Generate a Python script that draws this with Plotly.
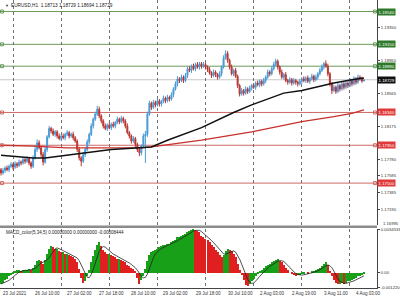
import plotly.graph_objects as go
import pandas as pd

# ---------------- data ----------------
FIRST_OPEN = 1.1766
CLOSE = [
    1.1762, 1.1765, 1.1768, 1.1766, 1.1770, 1.1772, 1.1769, 1.1773, 1.1771, 1.1775,
    1.1774, 1.1778, 1.1776, 1.1779, 1.1774, 1.1770, 1.1780, 1.1790, 1.1798, 1.1792,
    1.1784, 1.1775, 1.1790, 1.1805, 1.1815, 1.1812, 1.1808, 1.1811, 1.1806, 1.1803,
    1.1806, 1.1804, 1.1808, 1.1810, 1.1806, 1.1808, 1.1804, 1.1800, 1.1790, 1.1780,
    1.1776, 1.1784, 1.1790, 1.1799, 1.1808, 1.1818, 1.1826, 1.1832, 1.1838, 1.1830,
    1.1824, 1.1818, 1.1815, 1.1819, 1.1816, 1.1820, 1.1818, 1.1822, 1.1826, 1.1823,
    1.1827, 1.1824, 1.1818, 1.1810, 1.1806, 1.1800, 1.1803, 1.1796, 1.1790, 1.1786,
    1.1794, 1.1806, 1.1808, 1.1832, 1.1845, 1.1840, 1.1846, 1.1843, 1.1848, 1.1844,
    1.1847, 1.1851, 1.1848, 1.1852, 1.1850, 1.1855, 1.1862, 1.1868, 1.1874, 1.1872,
    1.1876, 1.1872, 1.1878, 1.1886, 1.1884, 1.1889, 1.1886, 1.1891, 1.1888, 1.1892,
    1.1889, 1.1891, 1.1888, 1.1885, 1.1881, 1.1878, 1.1882, 1.1879, 1.1876, 1.1880,
    1.1888, 1.1899, 1.1904, 1.1896, 1.1888, 1.1880, 1.1884, 1.1877, 1.1866, 1.1856,
    1.1860, 1.1857, 1.1862, 1.1859, 1.1863, 1.1866, 1.1864, 1.1869, 1.1867, 1.1871,
    1.1868, 1.1872, 1.1876, 1.1882, 1.1880, 1.1886, 1.1891, 1.1895, 1.1888, 1.1882,
    1.1876, 1.1879, 1.1872, 1.1870, 1.1873, 1.1869, 1.1872, 1.1870, 1.1868, 1.1871,
    1.1874, 1.1872, 1.1875, 1.1871, 1.1874, 1.1877, 1.1873, 1.1876, 1.1880, 1.1884,
    1.1888, 1.1892, 1.1889, 1.1880, 1.1868, 1.1860, 1.1864, 1.1859, 1.1866, 1.1862,
    1.1868, 1.1864, 1.1869, 1.1866, 1.1872, 1.1868, 1.1874, 1.1870, 1.1876, 1.18745,
    1.18713, 1.18729,
]
# wick lengths in pips (0.0001)
UP_WICK = [
    2, 3, 2, 3, 2, 3, 2, 3, 2, 3,
    2, 3, 2, 3, 2, 2, 3, 4, 4, 3,
    2, 3, 3, 2, 3, 2, 3, 2, 2, 3,
    2, 3, 2, 3, 2, 2, 3, 2, 2, 3,
    2, 3, 2, 3, 2, 3, 2, 3, 4, 3,
    2, 2, 3, 2, 3, 2, 3, 2, 3, 2,
    3, 2, 2, 3, 2, 2, 3, 2, 2, 3,
    2, 3, 4, 3, 3, 2, 3, 2, 3, 2,
    2, 3, 2, 3, 2, 3, 2, 3, 3, 2,
    3, 2, 3, 2, 3, 2, 3, 2, 3, 2,
    2, 3, 2, 2, 3, 2, 3, 2, 2, 3,
    2, 3, 4, 3, 2, 3, 2, 3, 2, 2,
    3, 2, 3, 2, 3, 2, 3, 2, 3, 2,
    2, 3, 2, 3, 2, 3, 3, 3, 2, 2,
    3, 2, 3, 2, 3, 2, 3, 2, 2, 3,
    2, 3, 2, 3, 2, 3, 2, 3, 2, 3,
    3, 2, 4, 3, 2, 2, 3, 2, 3, 2,
    3, 2, 3, 2, 3, 2, 3, 2, 3, 2,
    2, 0,
]
LOW_WICK = [
    3, 2, 3, 2, 3, 2, 3, 2, 3, 2,
    3, 2, 3, 2, 3, 3, 2, 2, 3, 2,
    3, 4, 2, 3, 2, 3, 2, 3, 3, 2,
    3, 2, 3, 2, 3, 2, 3, 2, 3, 3,
    6, 2, 3, 2, 3, 2, 3, 2, 2, 3,
    3, 3, 2, 3, 2, 3, 2, 3, 2, 3,
    2, 3, 3, 2, 3, 3, 2, 3, 3, 4,
    3, 2, 32, 3, 2, 3, 2, 3, 2, 3,
    3, 2, 3, 2, 3, 2, 3, 2, 3, 3,
    2, 3, 2, 3, 2, 3, 2, 3, 2, 3,
    3, 2, 3, 3, 2, 3, 2, 3, 3, 2,
    3, 2, 2, 3, 3, 2, 3, 2, 3, 3,
    2, 3, 2, 3, 2, 3, 2, 3, 2, 3,
    3, 2, 3, 2, 3, 2, 2, 2, 3, 3,
    2, 3, 2, 3, 2, 3, 2, 3, 3, 2,
    3, 2, 3, 2, 3, 2, 3, 2, 3, 2,
    2, 3, 2, 3, 3, 4, 2, 3, 2, 3,
    2, 3, 2, 3, 2, 3, 2, 3, 2, 3,
    2, 0.2,
]
# MACD histogram in units of 0.0001
MACD = [
    -9, -8, -6, -5, -3, -2, -1, 1, 2, 2,
    1, 2, 2, 2, 3, 2, 4, 6, 9, 10,
    9, 7, 10, 15, 19, 21, 20, 19, 19, 17,
    16, 16, 15, 15, 14, 13, 12, 11, 8, 3,
    -4, -8, -7, -3, 2, 8, 13, 18, 22, 24,
    21, 18, 16, 15, 15, 14, 13, 12, 11, 11,
    10, 9, 8, 6, 5, 4, 3, 1, -4, -9,
    -6, -3, 3, 9, 14, 16, 17, 18, 19, 20,
    21, 22, 22, 23, 23, 24, 25, 26, 28, 28,
    29, 30, 31, 32, 33, 34, 34.5, 34, 33, 32,
    29, 28, 27, 26, 24, 22, 20, 18, 16, 14,
    12, 14, 17, 19, 18, 17, 15, 12, 7, 2,
    -2, -6, -10, -11, -9, -7, -5, -3, -1, 1,
    2, 4, 5, 6, 7, 8, 9, 10, 11, 9,
    8, 6, 4, 2, 0, -1, -2, -3, -2, -2,
    -1, -1, 0, -1, 0, 1, 1, 2, 3, 4,
    5, 7, 8, 6, 1, -3, -6, -8, -9, -9,
    -8, -9, -8, -7, -7, -6, -5, -4, -3, -3,
    -2, -1,
]
MA_BLACK_IDX = [0, 16, 22, 41, 55, 75, 83, 100, 116, 125, 141, 150, 166, 175, 181]
MA_BLACK = [1.1783, 1.1780, 1.1780, 1.1786, 1.1790, 1.1793, 1.1801, 1.1816, 1.1834,
            1.1843, 1.1857, 1.1860, 1.1869, 1.1873, 1.1875]
MA_RED_IDX = [0, 16, 33, 50, 70, 75, 100, 125, 150, 166, 175, 181]
MA_RED = [1.1795, 1.1794, 1.1792, 1.1792, 1.1792, 1.1793, 1.1801, 1.1811, 1.1823,
          1.1829, 1.1833, 1.1837]

LEVELS_GREEN = [1.19540, 1.19150, 1.18890]
LEVELS_RED = [1.18340, 1.17950, 1.17500]
BID = 1.18729
PRICE_TICKS = [1.19350, 1.18960, 1.18565, 1.18175, 1.17780, 1.17585, 1.17385, 1.17190]
BOTTOM_PRICE_LABEL = "1.16995"
MACD_TICKS = [0.0034533, 0.0, -0.00122]
MACD_TICK_TEXT = ["0.0034533", "0.00", "-0.001220"]
TIME_LABEL_IDX = [0, 16, 32, 48, 64, 80, 96, 112, 128, 144, 160, 176]
TIME_LABELS = ["23 Jul 2021", "26 Jul 10:00", "27 Jul 02:00", "27 Jul 18:00",
               "28 Jul 10:00", "29 Jul 02:00", "29 Jul 18:00", "30 Jul 10:00",
               "2 Aug 03:00", "2 Aug 19:00", "3 Aug 11:00", "4 Aug 03:00"]
GRID_IDX = [6, 30, 54, 78, 102, 126, 150, 174]
HEADER = "EURUSD,H1  1.18713 1.18729 1.18694 1.18729"
MACD_TITLE = "MACD_color(5,34,5) 0.00000000 0.00000000 -0.00008444"

# ---------------- build ----------------
n = len(CLOSE)
idx = list(range(n))
OPEN = [FIRST_OPEN] + CLOSE[:-1]
HIGH = [max(o, c) + w * 1e-4 for o, c, w in zip(OPEN, CLOSE, UP_WICK)]
LOW = [min(o, c) - w * 1e-4 for o, c, w in zip(OPEN, CLOSE, LOW_WICK)]
macd = [v * 1e-4 for v in MACD]
signal = pd.Series(macd).rolling(5, min_periods=1).mean().tolist()
mcol = ["#18a018" if (i == 0 or macd[i] >= macd[i - 1]) else "#e02020" for i in range(len(macd))]

XDOM = [0, 377 / 400]
XR = [-0.5, 187.5]
FONT = "Liberation Sans, Arial, sans-serif"
TXT = "#333333"
GREEN_LINE = "#6a9a5c"
RED_LINE = "#cc6a66"

fig = go.Figure()
fig.add_trace(go.Candlestick(
    x=idx, open=OPEN, high=HIGH, low=LOW, close=CLOSE,
    increasing=dict(line=dict(color="#4a9ad6", width=1), fillcolor="#4a9ad6"),
    decreasing=dict(line=dict(color="#b83632", width=1), fillcolor="#b83632"),
    whiskerwidth=0, xaxis="x", yaxis="y", showlegend=False, hoverinfo="skip"))
fig.add_trace(go.Scatter(x=MA_RED_IDX, y=MA_RED, mode="lines", line=dict(color="#c8302c", width=1.3),
                         xaxis="x", yaxis="y", showlegend=False, hoverinfo="skip"))
fig.add_trace(go.Scatter(x=MA_BLACK_IDX, y=MA_BLACK, mode="lines", line=dict(color="#111111", width=1.5),
                         xaxis="x", yaxis="y", showlegend=False, hoverinfo="skip"))

# level endpoint squares
lv = LEVELS_GREEN + LEVELS_RED
lc = [GREEN_LINE] * len(LEVELS_GREEN) + [RED_LINE] * len(LEVELS_RED)
for p, c in zip(lv, lc):
    fig.add_trace(go.Scatter(x=[0.5, 186.5], y=[p, p], mode="markers",
                             marker=dict(symbol="square-open", size=3, color=c, line=dict(width=1, color=c)),
                             xaxis="x", yaxis="y", showlegend=False, hoverinfo="skip"))

fig.add_trace(go.Bar(x=idx, y=macd, marker=dict(color=mcol, line=dict(width=0)), width=0.55,
                     xaxis="x2", yaxis="y2", showlegend=False, hoverinfo="skip"))
fig.add_trace(go.Scatter(x=idx, y=signal, mode="lines", line=dict(color="#222222", width=0.8),
                         xaxis="x2", yaxis="y2", showlegend=False, hoverinfo="skip"))

shapes = []
for p, c in zip(lv, lc):
    shapes.append(dict(type="line", xref="paper", x0=0, x1=XDOM[1], yref="y", y0=p, y1=p,
                       line=dict(color=c, width=1), layer="below"))
shapes.append(dict(type="line", xref="paper", x0=0, x1=XDOM[1], yref="y", y0=BID, y1=BID,
                   line=dict(color="#c8c8c8", width=1), layer="below"))
# pane separator
shapes.append(dict(type="rect", xref="paper", x0=0, x1=XDOM[1], yref="paper",
                   y0=1 - 228 / 300, y1=1 - 225.5 / 300, fillcolor="#8c8c8c", line=dict(width=0)))

ann = []
ann.append(dict(xref="paper", yref="paper", x=3 / 400, y=1 - 5 / 300, text="▼", showarrow=False,
                xanchor="left", yanchor="middle", font=dict(size=4, color="#333", family=FONT)))
ann.append(dict(xref="paper", yref="paper", x=9 / 400, y=1 - 5 / 300, text=HEADER, showarrow=False,
                xanchor="left", yanchor="middle", font=dict(size=4.7, color="#222", family=FONT)))
ann.append(dict(xref="paper", yref="paper", x=4 / 400, y=1 - 232.5 / 300, text=MACD_TITLE, showarrow=False,
                xanchor="left", yanchor="middle", font=dict(size=4.5, color="#222", family=FONT)))
for i, t in zip(TIME_LABEL_IDX, TIME_LABELS):
    ann.append(dict(xref="x2", yref="paper", x=i, y=1 - 293.5 / 300, text=t, showarrow=False,
                    xanchor="left", yanchor="middle", font=dict(size=4.5, color=TXT, family=FONT)))
ann.append(dict(xref="paper", yref="paper", x=381 / 400, y=1 - 223 / 300, text=BOTTOM_PRICE_LABEL,
                showarrow=False, xanchor="left", yanchor="middle",
                font=dict(size=4.2, color=TXT, family=FONT)))
for p in LEVELS_GREEN:
    ann.append(dict(xref="paper", yref="y", x=XDOM[1], y=p, text=f"{p:.5f}", showarrow=False,
                    xanchor="left", yanchor="middle", bgcolor="#2f7a2a", borderpad=0.6,
                    font=dict(size=4.3, color="white", family=FONT)))
for p in LEVELS_RED:
    ann.append(dict(xref="paper", yref="y", x=XDOM[1], y=p, text=f"{p:.5f}", showarrow=False,
                    xanchor="left", yanchor="middle", bgcolor="#e03a3a", borderpad=0.6,
                    font=dict(size=4.3, color="white", family=FONT)))
ann.append(dict(xref="paper", yref="y", x=XDOM[1], y=BID, text=f"{BID:.5f}", showarrow=False,
                xanchor="left", yanchor="middle", bgcolor="#111111", borderpad=0.6,
                font=dict(size=4.3, color="white", family=FONT)))

grid = dict(tickmode="array", tickvals=GRID_IDX, showticklabels=False, showgrid=True,
            gridcolor="#707070", griddash="dot", gridwidth=1, zeroline=False, ticks="")

fig.update_layout(
    width=400, height=300, margin=dict(l=0, r=0, t=0, b=0),
    paper_bgcolor="white", plot_bgcolor="white", showlegend=False, bargap=0,
    xaxis=dict(domain=XDOM, range=XR, anchor="y", rangeslider=dict(visible=False), **grid),
    xaxis2=dict(domain=XDOM, range=XR, anchor="y2", matches="x", showline=True,
                linecolor="#444", linewidth=1, **grid),
    yaxis=dict(domain=[0.25, 1.0], range=[1.17002, 1.19677], side="right", anchor="x",
               tickvals=PRICE_TICKS, ticktext=[f"{v:.5f}" for v in PRICE_TICKS],
               ticks="outside", ticklen=2, tickcolor="#444", showgrid=False, zeroline=False,
               showline=True, linecolor="#444", linewidth=1, automargin=False,
               tickfont=dict(size=4.2, color=TXT, family=FONT)),
    yaxis2=dict(domain=[1 - 288 / 300, 1 - 229 / 300], range=[-0.001225, 0.003458], side="right",
                anchor="x2", tickvals=MACD_TICKS, ticktext=MACD_TICK_TEXT, ticks="outside",
                ticklen=2, tickcolor="#444", showgrid=False, zeroline=False, showline=True,
                linecolor="#444", linewidth=1, automargin=False,
                tickfont=dict(size=4.2, color=TXT, family=FONT)),
    shapes=shapes, annotations=ann,
)
fig.write_html("out.html")
